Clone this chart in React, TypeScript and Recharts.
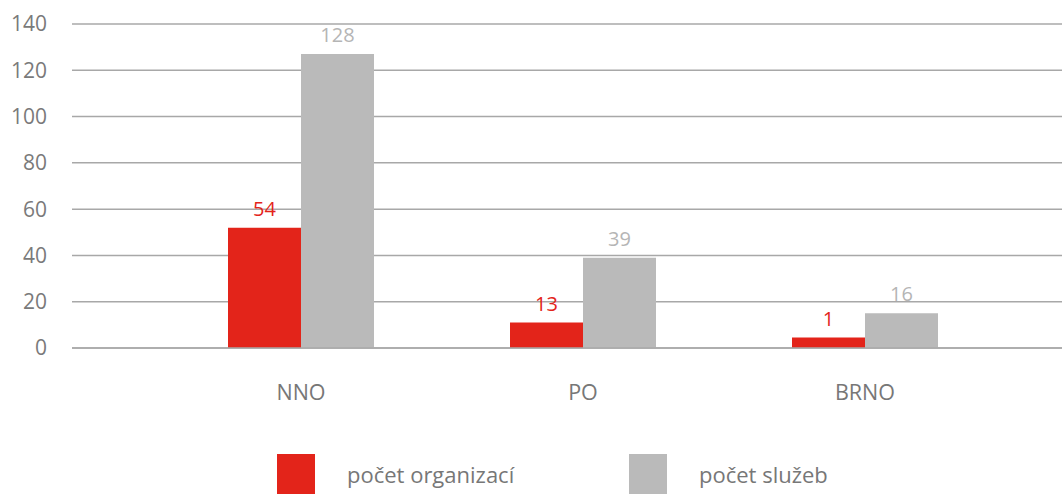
import { BarChart, Bar, XAxis, YAxis, CartesianGrid, LabelList } from 'recharts';

const categories = ['NNO', 'PO', 'BRNO'];
// bar heights as drawn in the picture
const organizations = [52, 11, 4.5];
const services = [127, 39, 15];
// numbers printed above the bars
const organizationLabels = ['54', '13', '1'];
const serviceLabels = ['128', '39', '16'];
const yTicks = [0, 20, 40, 60, 80, 100, 120, 140];

const RED = '#e3241a';
const GRAY = '#bababa';
const FONT = '"Open Sans", sans-serif';

const data = categories.map((name, i) => ({
  name,
  org: organizations[i],
  svc: services[i],
  orgLabel: organizationLabels[i],
  svcLabel: serviceLabels[i],
}));

const legendItems = [
  { label: 'počet organizací', color: RED, width: 352 },
  { label: 'počet služeb', color: GRAY, width: 300 },
];

function ChartLegend() {
  return (
    <div
      style={{
        position: 'absolute',
        left: 0,
        top: 454,
        width: 1062,
        display: 'flex',
        paddingLeft: 277,
        boxSizing: 'border-box',
        fontFamily: FONT,
      }}
    >
      {legendItems.map((item) => (
        <div key={item.label} style={{ display: 'flex', alignItems: 'center', width: item.width }}>
          <div style={{ width: 38, height: 40, background: item.color }} />
          <span style={{ marginLeft: 32, fontSize: 22, color: '#777' }}>{item.label}</span>
        </div>
      ))}
    </div>
  );
}

export default function App() {
  return (
    <div style={{ position: 'absolute', left: 0, top: 0, width: 1062, height: 496, background: '#fff' }}>
      <BarChart
        width={1062}
        height={496}
        data={data}
        margin={{ top: 24, right: 0, bottom: 88, left: 0 }}
        barGap={0}
        barSize={73}
      >
        <CartesianGrid vertical={false} stroke="#a8a8a8" strokeWidth={1.5} />
        <XAxis
          dataKey="name"
          height={60}
          padding={{ left: 88, right: 56 }}
          axisLine={{ stroke: '#a8a8a8', strokeWidth: 1.5 }}
          tickLine={false}
          tickSize={0}
          tickMargin={37}
          tick={{ fill: '#777', fontSize: 21.5, fontFamily: FONT }}
        />
        <YAxis
          width={72}
          domain={[0, 140]}
          ticks={yTicks}
          axisLine={false}
          tickLine={false}
          tickSize={0}
          tickMargin={25}
          tick={{ fill: '#7a7a7a', fontSize: 21, fontFamily: FONT }}
        />
        <Bar dataKey="org" fill={RED} isAnimationActive={false}>
          <LabelList dataKey="orgLabel" position="top" offset={12} fill={RED} fontSize={20} fontFamily={FONT} />
        </Bar>
        <Bar dataKey="svc" fill={GRAY} isAnimationActive={false}>
          <LabelList dataKey="svcLabel" position="top" offset={12} fill="#b5b5b5" fontSize={20} fontFamily={FONT} />
        </Bar>
      </BarChart>
      <ChartLegend />
    </div>
  );
}
